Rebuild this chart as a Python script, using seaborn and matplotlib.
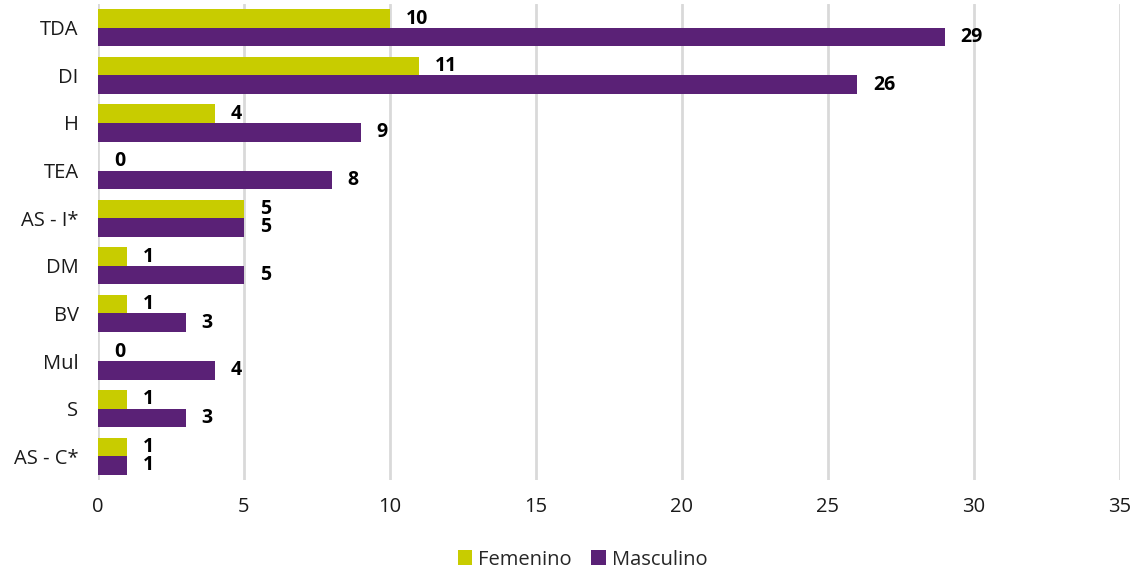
import matplotlib
matplotlib.use("Agg")
import matplotlib.pyplot as plt
import seaborn as sns
import pandas as pd

categories = ["TDA", "DI", "H", "TEA", "AS - I*", "DM", "BV", "Mul", "S", "AS - C*"]
femenino = [10, 11, 4, 0, 5, 1, 1, 0, 1, 1]
masculino = [29, 26, 9, 8, 5, 5, 3, 4, 3, 1]
series_names = ["Femenino", "Masculino"]
x_ticks = [0, 5, 10, 15, 20, 25, 30, 35]

df = pd.DataFrame({
    "categoria": categories * 2,
    "valor": femenino + masculino,
    "sexo": [series_names[0]] * len(categories) + [series_names[1]] * len(categories),
})

sns.set_theme(style="white")
plt.rcParams["font.family"] = ["Open Sans", "DejaVu Sans"]

fig = plt.figure(figsize=(11.35, 5.69), dpi=100)
ax = fig.add_axes([0.0863, 0.1564, 0.9005, 0.8366])

palette = {"Femenino": "#c8cc00", "Masculino": "#5a2176"}
sns.barplot(data=df, y="categoria", x="valor", hue="sexo", order=categories,
            hue_order=series_names, palette=palette, orient="h", width=0.78,
            saturation=1, linewidth=0, ax=ax, legend=True)

for container in ax.containers:
    ax.bar_label(container, fmt="%d", padding=11.5, fontsize=14, fontweight="bold",
                 color="black")

ax.set_xlim(0, 35)
ax.set_xticks(x_ticks)
ax.set_xlabel("")
ax.set_ylabel("")
ax.xaxis.grid(True, color="#d9d9d9", linewidth=2)
ax.set_axisbelow(True)
for s in ax.spines.values():
    s.set_visible(False)
ax.tick_params(axis="x", labelsize=14.5, pad=12, length=0, colors="#1a1a1a")
ax.tick_params(axis="y", labelsize=14.5, pad=14, length=0, colors="#1a1a1a")

handles, labels = ax.get_legend_handles_labels()
ax.legend(handles, labels, loc="center", bbox_to_anchor=(0.474, -0.167),
          ncol=2, frameon=False, fontsize=14.5, handlelength=0.7, handleheight=0.7,
          handletextpad=0.3, columnspacing=1.0, borderaxespad=0)

fig.savefig("out.png", dpi=100)
